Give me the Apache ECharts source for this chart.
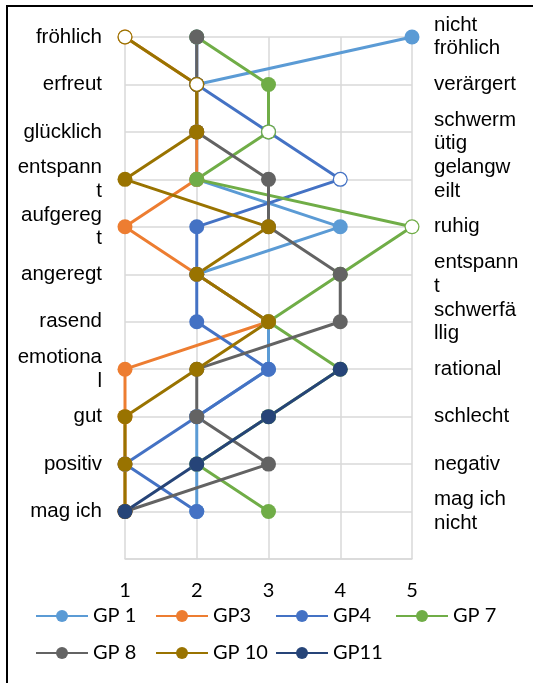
<!DOCTYPE html>
<html>
<head>
<meta charset="utf-8">
<script src="https://cdn.jsdelivr.net/npm/echarts@6/dist/echarts.min.js"></script>
<style>
  html, body { margin: 0; padding: 0; background: #fff; }
  #chart { width: 533px; height: 683px; }
</style>
</head>
<body>
<div id="chart"></div>
<script>
// Polaritätsprofil: eine Zeile je Begriffspaar, Skala 1–5
const rowsLeft = ['fröhlich', 'erfreut', 'glücklich', 'entspann\nt', 'aufgereg\nt', 'angeregt',
  'rasend', 'emotiona\nl', 'gut', 'positiv', 'mag ich'];
const rowsRight = ['nicht\nfröhlich', 'verärgert', 'schwerm\nütig', 'gelangw\neilt', 'ruhig',
  'entspann\nt', 'schwerfä\nllig', 'rational', 'schlecht', 'negativ', 'mag ich\nnicht'];
const scaleTicks = [1, 2, 3, 4, 5];

const seriesNames = ['GP 1', 'GP3', 'GP4', 'GP 7', 'GP 8', 'GP 10', 'GP11'];
const gp1  = [5, 2, 2, 2, 4, 2, 3, 3, 2, 2, 2];
const gp3  = [1, 2, 2, 2, 1, 2, 3, 1, 1, 1, 1];
const gp4  = [2, 2, 3, 4, 2, 2, 2, 3, 2, 1, 2];
const gp7  = [2, 3, 3, 2, 5, 4, 3, 4, 3, 2, 3];
const gp8  = [2, 2, 2, 3, 3, 4, 4, 2, 2, 3, 1];
const gp10 = [1, 2, 2, 1, 3, 2, 3, 2, 1, 1, 1];
const gp11 = [null, null, null, null, null, null, null, 4, 3, 2, 1];
// weiß gefüllte Marker auf der Diagonale
const markDiag = [1, 2, 3, 4, 5, null, null, null, null, null, null];

const seriesValues = [gp1, gp3, gp4, gp7, gp8, gp10, gp11];
const colors = ['#5B9BD5', '#ED7D31', '#4472C4', '#70AD47', '#636363', '#997300', '#264478'];

function toPoints(vals) {
  const pts = [];
  vals.forEach((v, i) => { if (v !== null) pts.push([v, i]); });
  return pts;
}

const series = seriesNames.map((name, k) => ({
  name: name,
  type: 'line',
  data: toPoints(seriesValues[k]),
  symbol: 'circle',
  symbolSize: 15,
  showSymbol: true,
  color: colors[k],
  lineStyle: { width: 3, color: colors[k] },
  itemStyle: { color: colors[k] },
  emphasis: { disabled: true },
  animation: false
}));

series.push({
  name: 'Diagonale',
  type: 'scatter',
  z: 10,
  zlevel: 0,
  data: toPoints(markDiag),
  symbol: 'circle',
  symbolSize: 12.5,
  itemStyle: { color: '#ffffff', opacity: 1 },
  emphasis: { disabled: true },
  animation: false
});

const legends = seriesNames.map((name, k) => ({
  data: [name],
  left: 35 + 120 * (k % 4),
  top: k < 4 ? 606 : 643,
  itemWidth: 52,
  itemHeight: 15,
  itemGap: 0,
  padding: 0,
  selectedMode: false,
  textStyle: { fontFamily: 'Lato', fontSize: 20, color: '#000' }
}));

const labelFont = { fontFamily: "'Liberation Sans', Arial, sans-serif", fontSize: 20.5, lineHeight: 23.5, color: '#000' };

const option = {
  animation: false,
  backgroundColor: '#fff',
  grid: { left: 125, right: 121, top: 37, bottom: 124 },
  xAxis: {
    type: 'value',
    min: scaleTicks[0],
    max: scaleTicks[scaleTicks.length - 1],
    interval: 1,
    axisLine: { show: true, lineStyle: { color: '#D9D9D9', width: 1.5 } },
    axisTick: { show: false },
    splitLine: { show: true, lineStyle: { color: '#D9D9D9', width: 1.5 } },
    axisLabel: { margin: 22, fontFamily: 'Lato', fontSize: 20, color: '#000' }
  },
  yAxis: [
    {
      type: 'category',
      inverse: true,
      boundaryGap: false,
      data: rowsLeft.concat(['']),
      axisLine: { show: false },
      axisTick: { show: false },
      splitLine: { show: true, interval: 0, lineStyle: { color: '#D9D9D9', width: 1.5 } },
      axisLabel: Object.assign({ margin: 23, interval: 0, align: 'right' }, labelFont)
    },
    {
      type: 'category',
      inverse: true,
      boundaryGap: false,
      position: 'right',
      data: rowsRight.concat(['']),
      axisLine: { show: false },
      axisTick: { show: false },
      splitLine: { show: false },
      axisLabel: Object.assign({ margin: 22, interval: 0, align: 'left' }, labelFont)
    }
  ],
  legend: legends,
  graphic: [
    { type: 'line', shape: { x1: 7, y1: 5, x2: 7, y2: 683 }, style: { stroke: '#000', lineWidth: 2 } },
    { type: 'line', shape: { x1: 6, y1: 6, x2: 533, y2: 6 }, style: { stroke: '#000', lineWidth: 2 } }
  ],
  series: series
};

const chart = echarts.init(document.getElementById('chart'), null, { renderer: 'canvas' });
chart.setOption(option);
</script>
</body>
</html>
